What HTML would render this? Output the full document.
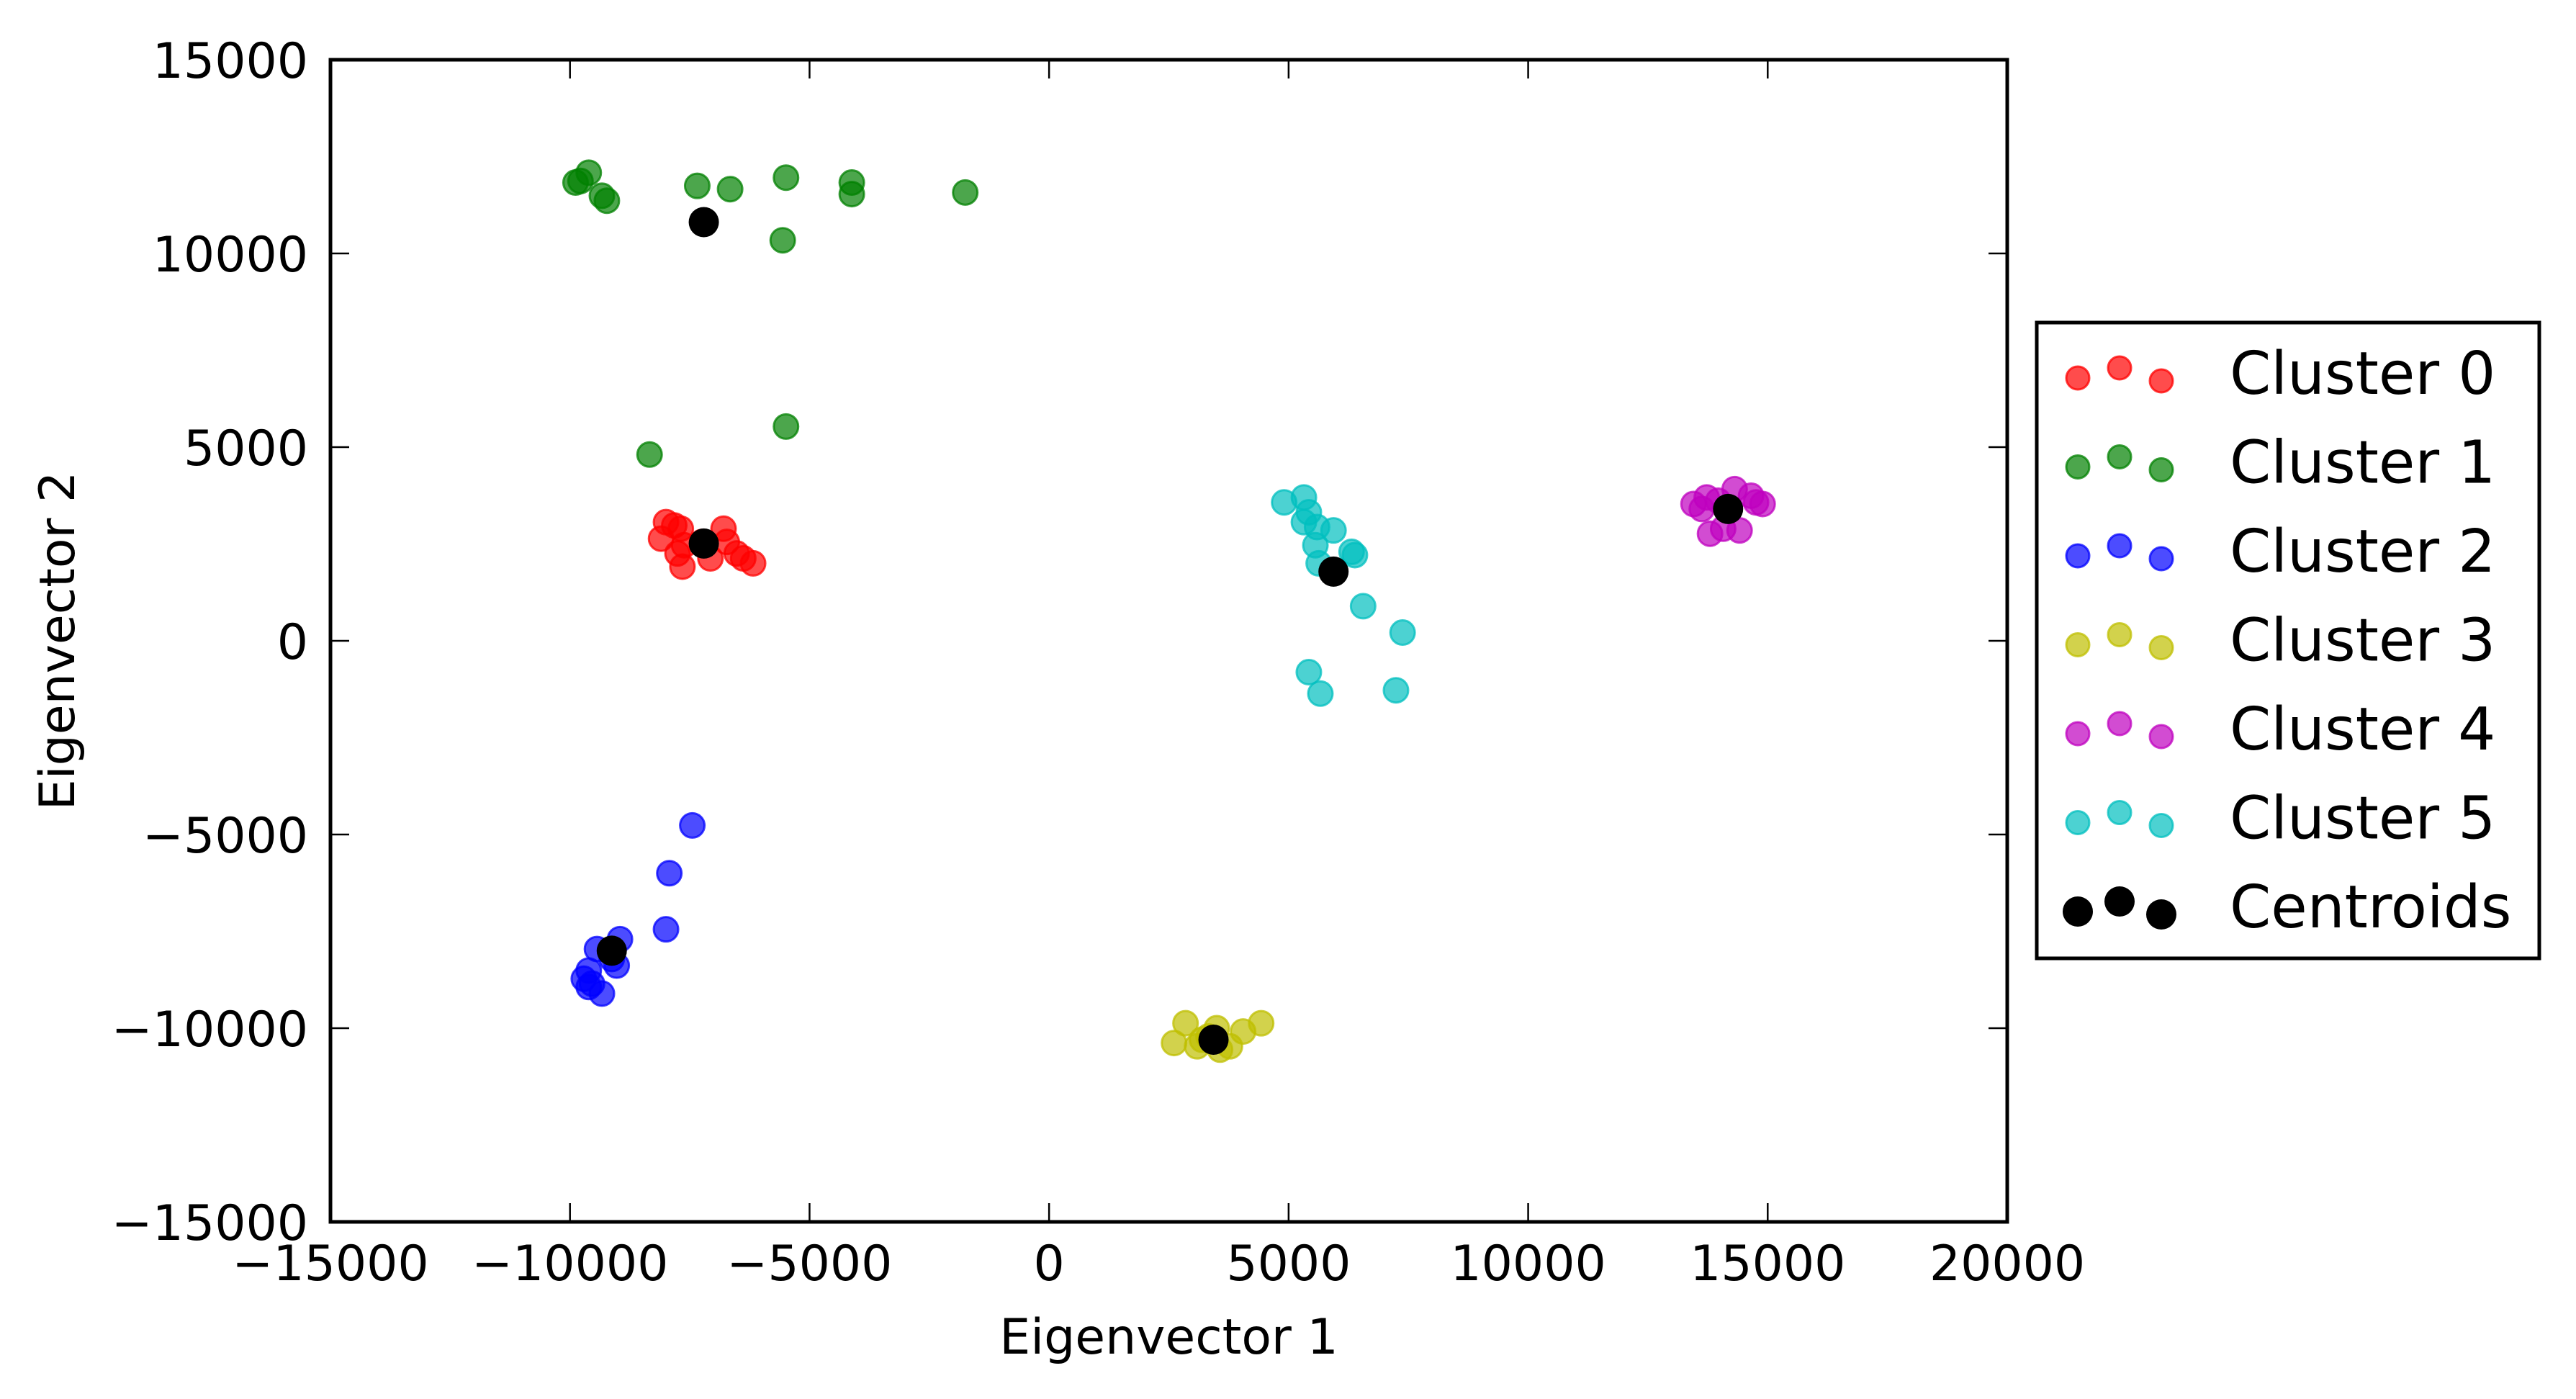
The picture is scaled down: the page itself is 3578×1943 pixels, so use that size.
<!DOCTYPE html>
<html><head><meta charset="utf-8"><style>
html,body{margin:0;padding:0;background:#fff;}
svg{display:block;font-family:"DejaVu Sans","Liberation Sans",sans-serif;}
</style></head><body>
<svg id="chart" width="3578" height="1943" viewBox="0 0 3578 1943" xmlns="http://www.w3.org/2000/svg">
<rect width="3578" height="1943" fill="#fff"/>
<g id="marks"></g>
<g id="axes"></g>
<g id="legend"></g>
</svg>
<script>
const xTicks=[-15000,-10000,-5000,0,5000,10000,15000,20000];
const yTicks=[-15000,-10000,-5000,0,5000,10000,15000];
const clusterNames=["Cluster 0","Cluster 1","Cluster 2","Cluster 3","Cluster 4","Cluster 5"];
const clusterColors=["#ff0000","#008000","#0000ff","#bfbf00","#bf00bf","#00bfbf"];
const c0x=[-7996,-7824,-7687,-8099,-7618,-7756,-7653,-7241,-6795,-6727,-6521,-6384,-6178,-7069];
const c0y=[3064,2979,2894,2638,2468,2255,1915,2553,2894,2553,2255,2128,2000,2128];
const c1x=[-9884,-9609,-9781,-9334,-9231,-7344,-6658,-5491,-4118,-4118,-1750,-5560,-8339,-5491];
const c1y=[11830,12085,11872,11489,11362,11745,11660,11957,11830,11532,11574,10340,4809,5532];
const c2x=[-7447,-7927,-7996,-8957,-9437,-9128,-9609,-9712,-9540,-9334,-9609,-9025];
const c2y=[-4766,-6000,-7447,-7702,-7957,-8213,-8511,-8723,-8851,-9106,-8936,-8383];
const c3x=[2608,2848,3089,3329,3569,3775,4050,4427,3500,3192];
const c3y=[-10383,-9872,-10468,-10213,-10553,-10468,-10085,-9872,-10000,-10298];
const c4x=[13452,13727,13967,14310,14653,14894,13796,14070,14413,14756,13624];
const c4y=[3532,3702,3617,3915,3745,3532,2766,2894,2851,3574,3404];
const c5x=[4907,5319,5422,5319,5594,5937,5559,5628,6315,6383,6555,7379,5422,5663,7241];
const c5y=[3574,3702,3319,3064,2936,2851,2468,2000,2298,2213,894,213,-809,-1362,-1277];
const centroidX=[-7207,-7207,-9128,3432,14173,5937];
const centroidY=[2511,10809,-8000,-10298,3404,1787];

const NS="http://www.w3.org/2000/svg";
const L=459,R=2788,T=83,B=1697;
const xMin=-15000,xMax=20000,yMin=-15000,yMax=15000;
function sx(v){return L+(v-xMin)/(xMax-xMin)*(R-L);}
function sy(v){return B-(v-yMin)/(yMax-yMin)*(B-T);}
function mk(tag,attrs,parent){const e=document.createElementNS(NS,tag);for(const k in attrs)e.setAttribute(k,attrs[k]);parent.appendChild(e);return e;}
const marks=document.getElementById('marks');
const xs=[c0x,c1x,c2x,c3x,c4x,c5x], ys=[c0y,c1y,c2y,c3y,c4y,c5y];
for(let c=0;c<6;c++){
  const g=mk('g',{},marks);
  
  
  for(let i=0;i<xs[c].length;i++){
    const p=mk('circle',{cx:sx(xs[c][i]),cy:sy(ys[c][i]),r:17,fill:clusterColors[c],'fill-opacity':0.7,stroke:clusterColors[c],'stroke-opacity':0.75,'stroke-width':3},g);
    
    
  }
}
const cg=mk('g',{},marks);


for(let i=0;i<centroidX.length;i++){
  const p=mk('circle',{cx:sx(centroidX[i]),cy:sy(centroidY[i]),r:21,fill:'#000'},cg);
  
  
}
const axes=document.getElementById('axes');
const frame=mk('rect',{x:L,y:T,width:R-L,height:B-T,fill:'none',stroke:'#000','stroke-width':5},axes);


for(const v of xTicks){
  const x=sx(v);
  mk('line',{x1:x,y1:B,x2:x,y2:B-26,stroke:'#000','stroke-width':2.5},axes);
  mk('line',{x1:x,y1:T,x2:x,y2:T+26,stroke:'#000','stroke-width':2.5},axes);
  const t=mk('text',{x:x,y:1778,'text-anchor':'middle','font-size':68},axes);
  t.textContent=String(v).replace('-','\u2212');
  
  
}
for(const v of yTicks){
  const y=sy(v);
  mk('line',{x1:L,y1:y,x2:L+26,y2:y,stroke:'#000','stroke-width':2.5},axes);
  mk('line',{x1:R,y1:y,x2:R-26,y2:y,stroke:'#000','stroke-width':2.5},axes);
  const t=mk('text',{x:428,y:y+25,'text-anchor':'end','font-size':68},axes);
  t.textContent=String(v).replace('-','\u2212');
  
  
}
const xl=mk('text',{x:(L+R)/2,y:1880,'text-anchor':'middle','font-size':68},axes);
xl.textContent='Eigenvector 1';


const yl=mk('text',{x:0,y:0,'text-anchor':'middle','font-size':68,transform:'translate(103,'+((T+B)/2)+') rotate(-90)'},axes);
yl.textContent='Eigenvector 2';



const leg=document.getElementById('legend');


mk('rect',{x:2829,y:448,width:698,height:883,fill:'#fff',stroke:'#000','stroke-width':5},leg);
const legendLabels=clusterNames.concat(['Centroids']);
const legendColors=clusterColors.concat(['#000']);
const offs=[8,-6,12];
const mxs=[2886,2944,3002];
for(let i=0;i<legendLabels.length;i++){
  const cy=517+i*123.5;
  const g=mk('g',{},leg);
  
  
  for(let k=0;k<3;k++){
    if(i===6) mk('circle',{cx:mxs[k],cy:cy+offs[k],r:21,fill:'#000'},g);
    else mk('circle',{cx:mxs[k],cy:cy+offs[k],r:16,fill:legendColors[i],'fill-opacity':0.7,stroke:legendColors[i],'stroke-opacity':0.75,'stroke-width':3},g);
  }
  const t=mk('text',{x:3097,y:cy+30,'font-size':82},g);
  t.textContent=legendLabels[i];
}
</script>
</body></html>
